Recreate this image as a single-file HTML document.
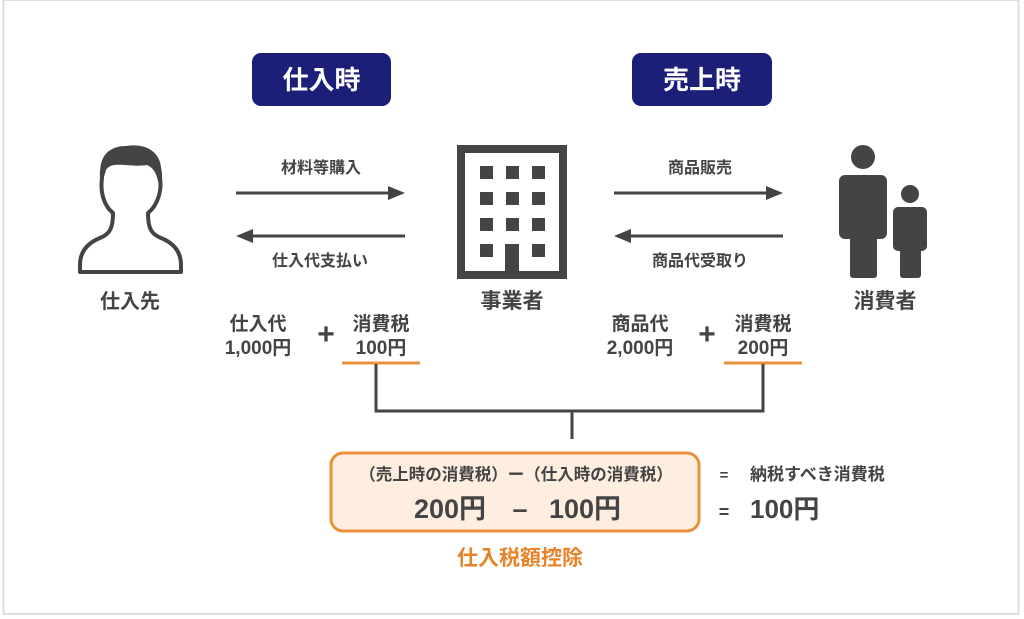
<!DOCTYPE html>
<html><head><meta charset="utf-8"><style>
html,body{margin:0;padding:0;background:#fff;}
svg{display:block;}
text{font-family:"Liberation Sans","Noto Sans CJK JP",sans-serif;font-weight:bold;fill:#444;}
</style></head><body>
<svg width="1024" height="619" viewBox="0 0 1024 619" xmlns="http://www.w3.org/2000/svg">
<rect x="0" y="0" width="1024" height="619" fill="#fff"/>
<rect x="3.5" y="0" width="1015" height="614" fill="none" stroke="#ddd" stroke-width="2"/>
<rect x="252" y="53" width="139" height="53" rx="9" fill="#1c1f78"/>
<text x="321.5" y="89" font-size="26" text-anchor="middle" style="fill:#fff">仕入時</text>
<rect x="632" y="53" width="140" height="53" rx="9" fill="#1c1f78"/>
<text x="702" y="89" font-size="26" text-anchor="middle" style="fill:#fff">売上時</text>
<path d="M113,213 C113,228 110,234 100,238 C85,244 80,254 80,265 L80,272 L181,272 L181,265 C181,254 176,244 161,238 C151,234 148,228 148,213 C158,205 162,190 160,178 C161,160 148,152 131,152 C114,152 100,160 102,178 C100,192 104,206 113,213 Z" fill="none" stroke="#444" stroke-width="4" stroke-linejoin="round"/>
<path d="M102,184 C96,160 106,146 126,146 C150,142 168,156 159,186 C157,174 154,168 147,165 C130,168 112,160 106,170 Z" fill="#444"/>
<text x="130" y="308" font-size="20" text-anchor="middle">仕入先</text>
<g stroke="#444" stroke-width="3" fill="#444">
<line x1="236" y1="193" x2="392" y2="193"/>
<line x1="250" y1="236" x2="405" y2="236"/>
<line x1="614" y1="193" x2="770" y2="193"/>
<line x1="628" y1="236" x2="783" y2="236"/>
</g>
<g fill="#444">
<polygon points="405,193 388,186 388,200"/>
<polygon points="236,236 253,229 253,243"/>
<polygon points="783,193 766,186 766,200"/>
<polygon points="614,236 631,229 631,243"/>
</g>
<text x="321" y="173" font-size="16" text-anchor="middle">材料等購入</text>
<text x="320" y="266" font-size="16" text-anchor="middle">仕入代支払い</text>
<text x="700" y="173" font-size="16" text-anchor="middle">商品販売</text>
<text x="700" y="266" font-size="16" text-anchor="middle">商品代受取り</text>
<rect x="461" y="149" width="102" height="126" fill="none" stroke="#444" stroke-width="8"/>
<g fill="#444">
<rect x="480" y="166" width="13" height="13"/><rect x="506" y="166" width="13" height="13"/><rect x="532" y="166" width="13" height="13"/>
<rect x="480" y="192" width="13" height="13"/><rect x="506" y="192" width="13" height="13"/><rect x="532" y="192" width="13" height="13"/>
<rect x="480" y="218" width="13" height="13"/><rect x="506" y="218" width="13" height="13"/><rect x="532" y="218" width="13" height="13"/>
<rect x="480" y="244" width="13" height="13"/><rect x="505" y="244" width="14" height="30"/><rect x="532" y="244" width="13" height="13"/>
</g>
<text x="512" y="308" font-size="21" text-anchor="middle">事業者</text>
<g fill="#444">
<circle cx="863" cy="157" r="12"/>
<rect x="839" y="175" width="48" height="64" rx="6"/>
<rect x="850" y="230" width="27" height="48" rx="3"/>
<circle cx="910" cy="194" r="9"/>
<rect x="893" y="207" width="34" height="44" rx="5"/>
<rect x="900" y="245" width="21" height="33" rx="3"/>
</g>
<text x="885" y="308" font-size="21" text-anchor="middle">消費者</text>
<g font-size="19" text-anchor="middle">
<text x="258" y="330">仕入代</text><text x="258" y="354">1,000円</text>
<text x="381" y="330">消費税</text><text x="381" y="354">100円</text>
<text x="640" y="330">商品代</text><text x="640" y="354">2,000円</text>
<text x="763" y="330">消費税</text><text x="763" y="354">200円</text>
</g>
<text x="326" y="344" font-size="30" text-anchor="middle">+</text>
<text x="707" y="344" font-size="30" text-anchor="middle">+</text>
<line x1="342" y1="363" x2="420" y2="363" stroke="#e8913a" stroke-width="3"/>
<line x1="724" y1="363" x2="802" y2="363" stroke="#e8913a" stroke-width="3"/>
<path d="M376,364 V411 H763 V364 M572,411 V439" fill="none" stroke="#444" stroke-width="3"/>
<rect x="331" y="453" width="368" height="78" rx="12" fill="#fdeee0" stroke="#e8913a" stroke-width="3"/>
<text x="516" y="480" font-size="16.5" text-anchor="middle">（売上時の消費税）ー（仕入時の消費税）</text>
<text x="450" y="518" font-size="27" text-anchor="middle">200円</text>
<text x="520" y="518" font-size="27" text-anchor="middle">–</text>
<text x="585" y="518" font-size="27" text-anchor="middle">100円</text>
<text x="724" y="480" font-size="15" text-anchor="middle">=</text>
<text x="750" y="480" font-size="17">納税すべき消費税</text>
<text x="724" y="518" font-size="18" text-anchor="middle">=</text>
<text x="750" y="518" font-size="26">100円</text>
<text x="520" y="565" font-size="21" text-anchor="middle" style="fill:#e8832a">仕入税額控除</text>
</svg>
</body></html>
